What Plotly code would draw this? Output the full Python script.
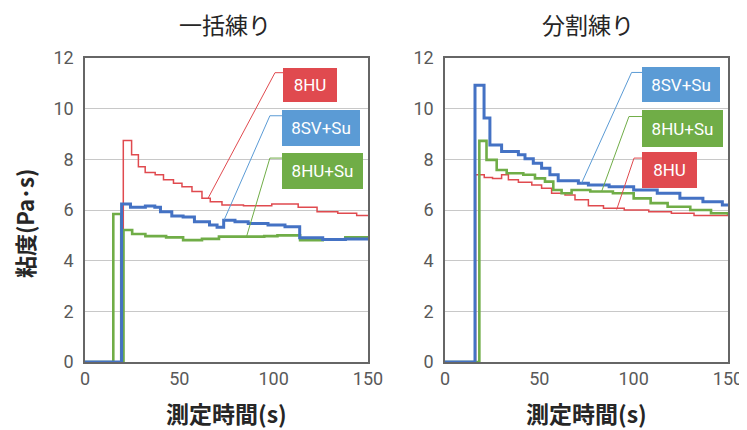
import plotly.graph_objects as go

# ---------------- data ----------------
titles = ["一括練り", "分割練り"]
x_title = "測定時間(s)"
y_title = "粘度(Pa･s)"
x_ticks = [0, 50, 100, 150]
y_ticks = [0, 2, 4, 6, 8, 10, 12]

# 一括練り
a_8hu_t = [0, 20.3, 24.7, 28.3, 31.9, 37.2, 41.6, 46.9, 51.4, 56.7, 62, 66.4, 72.6, 84, 99, 113, 123, 134, 144, 150]
a_8hu_v = [0, 8.74, 8.18, 7.71, 7.48, 7.39, 7.19, 7.06, 6.92, 6.73, 6.46, 6.33, 6.20, 6.17, 6.24, 6.11, 5.93, 5.87, 5.78, 5.78]
a_8sv_t = [0, 19.4, 24.1, 32, 37, 40, 46, 52, 58, 66, 70, 73.5, 79.5, 86.5, 97, 106, 113.8, 126, 138, 150]
a_8sv_v = [0, 6.24, 6.11, 6.16, 6.11, 5.93, 5.76, 5.72, 5.54, 5.41, 5.32, 5.60, 5.54, 5.47, 5.41, 5.34, 4.90, 4.84, 4.86, 4.86]
a_8hs_t = [0, 15, 19.2, 20.4, 25, 32, 43, 52, 62, 71, 95, 102, 114, 126, 138, 150]
a_8hs_v = [0, 5.84, 0, 5.21, 5.05, 4.97, 4.92, 4.81, 4.86, 4.95, 4.97, 5.0, 4.81, 4.84, 4.92, 4.95]

# 分割練り
b_8hu_t = [0, 16.2, 20.8, 25.2, 30, 33.6, 38.9, 46, 51.2, 56.5, 63.6, 68.9, 76, 84, 95, 108, 120, 132, 150]
b_8hu_v = [0, 7.39, 7.28, 7.24, 7.39, 7.19, 7.10, 6.99, 6.86, 6.66, 6.59, 6.40, 6.17, 6.07, 6.0, 5.93, 5.87, 5.78, 5.75]
b_8sv_t = [0, 15.9, 20.7, 23.8, 30, 38.9, 42.4, 46.8, 51.2, 55.6, 60, 70.7, 76, 87, 100, 112.5, 124.5, 136.7, 147, 150]
b_8sv_v = [0, 10.92, 9.63, 8.57, 8.31, 8.18, 8.02, 7.85, 7.65, 7.39, 7.15, 7.06, 6.99, 6.92, 6.79, 6.66, 6.46, 6.33, 6.2, 6.2]
b_8hs_t = [0, 18.2, 22, 27.4, 32.7, 41.5, 47.7, 53, 57.4, 61.8, 67.1, 77, 89, 100, 109, 118, 130, 141, 150]
b_8hs_v = [0, 8.73, 7.98, 7.58, 7.45, 7.39, 7.25, 7.12, 6.79, 6.66, 6.79, 6.73, 6.66, 6.46, 6.27, 6.13, 6.0, 5.87, 5.8]

names = ["8HU", "8SV+Su", "8HU+Su"]
line_colors = ["#E04A4F", "#4472C4", "#70AD47"]
box_colors = ["#E04A4F", "#5B9BD5", "#70AD47"]
line_widths = [1.5, 3, 2.6]

# callouts: (series index, anchor t, anchor v, elbow t, elbow v, box centre t, box centre v, box w px, box h px)
callouts_a = [
    (0, 65.2, 6.46, 100.7, 11.42, 119.2, 10.95, 54, 34),
    (1, 73.7, 5.60, 98.0, 9.72, 124.9, 9.25, 78, 36),
    (2, 85.7, 4.97, 98.0, 8.05, 125.8, 7.53, 81, 36),
]
callouts_b = [
    (1, 72.4, 7.06, 98.9, 11.43, 125.3, 10.96, 78, 35),
    (2, 83.0, 6.73, 97.5, 9.69, 125.7, 9.23, 81, 37),
    (0, 91.0, 6.02, 100.2, 8.05, 119.2, 7.57, 55, 36),
]

# ---------------- figure ----------------
# the page body has an 8px margin, so the figure is sized / positioned to compensate
OFF = 8
PW, PH = 747, 430
W, H = PW - OFF, PH - OFF


def px_x(p):
    return (p - OFF) / W


def px_y(p):
    return (H - (p - OFF)) / H


fig = go.Figure()

panels = [
    ("x", "y", [(a_8hu_t, a_8hu_v), (a_8sv_t, a_8sv_v), (a_8hs_t, a_8hs_v)], callouts_a),
    ("x2", "y2", [(b_8hu_t, b_8hu_v), (b_8sv_t, b_8sv_v), (b_8hs_t, b_8hs_v)], callouts_b),
]
draw_order = [0, 2, 1]

for xr, yr, series, callouts in panels:
    for i in draw_order:
        t, v = series[i]
        fig.add_trace(go.Scatter(
            x=t, y=v, mode="lines", name=names[i], showlegend=False,
            line=dict(color=line_colors[i], width=line_widths[i], shape="hv"),
            xaxis=xr, yaxis=yr, hoverinfo="skip"))
    for (i, at, av, et, ev, bt, bv, bw, bh) in callouts:
        fig.add_trace(go.Scatter(
            x=[at, et, bt], y=[av, ev, ev], mode="lines", showlegend=False,
            line=dict(color=box_colors[i], width=1), xaxis=xr, yaxis=yr, hoverinfo="skip"))
        fig.add_annotation(
            x=bt, y=bv, xref=xr, yref=yr, text=names[i], showarrow=False,
            width=bw, height=bh, bgcolor=box_colors[i], borderpad=0, borderwidth=0,
            font=dict(family="Roboto, Noto Sans, sans-serif", size=17, color="white"),
            xanchor="center", yanchor="middle", valign="middle")

ydom = [px_y(362), px_y(58)]
axis_common = dict(
    showline=True, mirror=True, linecolor="#666666", linewidth=1.5,
    ticks="", layer="below traces", automargin=False,
    tickfont=dict(family="Roboto, Noto Sans, sans-serif", size=18, color="#595959"),
)
fig.update_layout(
    width=W, height=H, margin=dict(l=0, r=0, t=0, b=0, autoexpand=False),
    paper_bgcolor="white", plot_bgcolor="white",
    xaxis=dict(domain=[px_x(85), px_x(368)], range=[0, 150], tickvals=x_ticks,
               showgrid=False, zeroline=False, anchor="y", **axis_common),
    yaxis=dict(domain=ydom, range=[0, 12], tickvals=y_ticks, showgrid=True,
               gridcolor="#C8C8C8", gridwidth=1, zeroline=False, anchor="x",
               ticklabelstandoff=6, **axis_common),
    xaxis2=dict(domain=[px_x(445), px_x(728)], range=[0, 150], tickvals=x_ticks,
                showgrid=False, zeroline=False, anchor="y2", **axis_common),
    yaxis2=dict(domain=ydom, range=[0, 12], tickvals=y_ticks, showgrid=True,
                gridcolor="#C8C8C8", gridwidth=1, zeroline=False, anchor="x2",
                ticklabelstandoff=6, **axis_common),
)

cjk = "Noto Sans CJK JP, sans-serif"
title_cx = [225, 588]
xtitle_cx = [226.5, 586.5]
for k in range(2):
    fig.add_annotation(x=px_x(title_cx[k]), y=px_y(24), xref="paper", yref="paper",
                       text=titles[k], showarrow=False, xanchor="center", yanchor="middle",
                       font=dict(family=cjk, size=23, color="#262626"))
    fig.add_annotation(x=px_x(xtitle_cx[k]), y=px_y(413), xref="paper", yref="paper",
                       text="<b>" + x_title + "</b>", showarrow=False,
                       xanchor="center", yanchor="middle",
                       font=dict(family=cjk, size=23, color="#262626"))
fig.add_annotation(x=px_x(24), y=px_y(224), xref="paper", yref="paper",
                   text="<b>" + y_title + "</b>", showarrow=False, textangle=-90,
                   borderpad=0, xanchor="center", yanchor="middle",
                   font=dict(family=cjk, size=22, color="#262626"))

fig.write_html("out.html")
